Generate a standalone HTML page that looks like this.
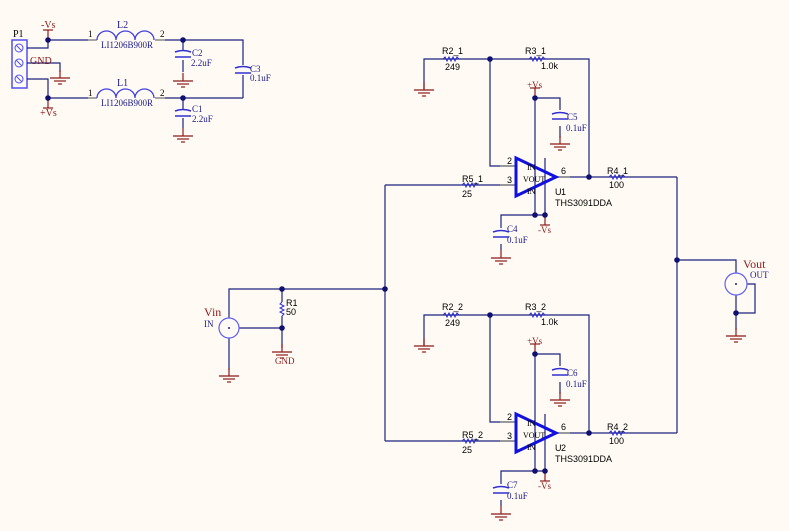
<!DOCTYPE html>
<html><head><meta charset="utf-8"><style>
html,body{margin:0;padding:0;background:#fffbf4;}
svg{display:block;}
text{font-family:"Liberation Sans",sans-serif;}
.s{font-family:"Liberation Serif",serif;}
</style></head><body>
<svg width="789" height="531" viewBox="0 0 789 531" xmlns="http://www.w3.org/2000/svg">
<defs>
<g id="gnd" stroke="#8b1a1a" stroke-width="1.2" fill="none">
<line x1="0" y1="0" x2="0" y2="8"/>
<line x1="-10" y1="8" x2="10" y2="8"/>
<line x1="-6" y1="11" x2="6" y2="11"/>
<line x1="-2" y1="14" x2="2" y2="14"/>
</g>
<path id="res" d="M-8 0 L-6 -2 L-4 2 L-2 -2 L0 2 L2 -2 L4 2 L6 -2 L8 0" stroke="#3030d0" stroke-width="1" fill="none"/>
<g id="cap" stroke="#3030d0" stroke-width="1.5" fill="none">
<path d="M-8 -2 Q0 -5 8 -2"/><line x1="-8" y1="3" x2="8" y2="3"/>
</g>
<g id="ind" stroke="#4040e0" stroke-width="1.3" fill="none">
<path d="M0 0 A9.5 9 0 0 1 19 0 A9.5 9 0 0 1 38 0 A9.5 9 0 0 1 57 0"/>
</g>
<g id="opamp">
<g stroke="#1a237e" stroke-width="1.2" fill="none">
<polyline points="424,90 424,59 490,59 589,59 589,177"/>
<polyline points="490,59 490,166 516,166"/>
<line x1="385" y1="185" x2="516" y2="185"/>
<line x1="556" y1="177" x2="677" y2="177"/>
<polyline points="535,98 535,215"/>
<polyline points="535,98 560,98 560,110"/>
<line x1="560" y1="126" x2="560" y2="138"/>
<polyline points="501,228 501,215 545,215 545,158"/>
<line x1="501" y1="244" x2="501" y2="250"/>
</g>
<g stroke="#888" stroke-width="1.5">
<line x1="500" y1="166" x2="516" y2="166"/><line x1="500" y1="185" x2="516" y2="185"/>
<line x1="556" y1="177" x2="570" y2="177"/>
</g>
<line x1="535" y1="88" x2="535" y2="98" stroke="#8b1a1a" stroke-width="1.2"/>
<line x1="530" y1="88" x2="540" y2="88" stroke="#8b1a1a" stroke-width="1.2"/>
<line x1="545" y1="215" x2="545" y2="225" stroke="#8b1a1a" stroke-width="1.2"/>
<line x1="540" y1="225" x2="550" y2="225" stroke="#8b1a1a" stroke-width="1.2"/>
<use href="#res" x="451" y="59"/><use href="#res" x="537" y="59"/>
<use href="#res" x="470" y="185"/><use href="#res" x="617" y="177"/>
<use href="#cap" x="560" y="116"/><use href="#cap" x="501" y="234"/>
<use href="#gnd" x="424" y="82"/><use href="#gnd" x="560" y="136"/><use href="#gnd" x="501" y="250"/>
<polygon points="516,158 516,196 556,177" fill="none" stroke="#1010e0" stroke-width="3"/>
<g fill="#10106e"><circle cx="490" cy="59" r="2.8"/><circle cx="535" cy="98" r="2.8"/><circle cx="589" cy="177" r="2.8"/><circle cx="535" cy="215" r="2.8"/><circle cx="545" cy="215" r="2.8"/></g>
<g font-size="9" fill="#000">
<text x="507" y="164">2</text><text x="507" y="183">3</text><text x="561" y="174">6</text>
<text x="527" y="170" font-size="8" class="s">IN</text><text x="523" y="182" font-size="8" class="s">VOUT</text><text x="527" y="194" font-size="8" class="s">IN</text>
<text x="442" y="54">R2_</text><text x="445" y="70">249</text>
<text x="525" y="54">R3_</text><text x="541" y="69">1.0k</text>
<text x="462" y="182">R5_</text><text x="462" y="197">25</text>
<text x="607" y="174">R4_</text><text x="609" y="188">100</text>
<text x="555" y="195">U</text><text x="555" y="206">THS3091DDA</text>
</g>
<g font-size="9" fill="#1a1a8c" class="s"><text x="566" y="131" class="s">0.1uF</text>
<text x="507" y="243" class="s">0.1uF</text></g>
</g>
</defs>

<!-- power section -->
<rect x="12" y="40" width="15" height="48" fill="none" stroke="#5050f0" stroke-width="1.5"/>
<g stroke="#5050f0" stroke-width="1" fill="none">
<circle cx="19" cy="48" r="4"/><circle cx="19" cy="63" r="4"/><circle cx="19" cy="79" r="4"/>
<line x1="16" y1="45" x2="22" y2="51"/><line x1="16" y1="60" x2="22" y2="66"/><line x1="16" y1="76" x2="22" y2="82"/>
</g>
<g stroke="#1a237e" stroke-width="1.2" fill="none">
<polyline points="27,48 48,48 48,40 88,40"/>
<polyline points="165,40 243,40 243,65"/>
<line x1="243" y1="75" x2="243" y2="98"/>
<polyline points="27,79 48,79 48,98 88,98"/>
<line x1="165" y1="98" x2="243" y2="98"/>
<polyline points="27,63 60,63 60,72"/>
<line x1="183" y1="40" x2="183" y2="50"/><line x1="183" y1="60" x2="183" y2="72"/>
<line x1="183" y1="98" x2="183" y2="110"/><line x1="183" y1="118" x2="183" y2="128"/>
</g>
<g stroke="#888" stroke-width="1.5"><line x1="88" y1="40" x2="97" y2="40"/><line x1="155" y1="40" x2="165" y2="40"/><line x1="88" y1="98" x2="97" y2="98"/><line x1="155" y1="98" x2="165" y2="98"/></g>
<use href="#ind" x="97" y="40"/><use href="#ind" x="97" y="98"/>
<use href="#cap" x="183" y="54"/><use href="#cap" x="183" y="113"/>
<g transform="translate(243,70)"><use href="#cap"/></g>
<use href="#gnd" x="60" y="70"/><use href="#gnd" x="183" y="73"/><use href="#gnd" x="183" y="128"/>
<line x1="48" y1="30" x2="48" y2="40" stroke="#8b1a1a" stroke-width="1.2"/><line x1="43" y1="30" x2="53" y2="30" stroke="#8b1a1a" stroke-width="1.2"/>
<line x1="48" y1="98" x2="48" y2="108" stroke="#8b1a1a" stroke-width="1.2"/><line x1="43" y1="108" x2="53" y2="108" stroke="#8b1a1a" stroke-width="1.2"/>
<g fill="#10106e"><circle cx="48" cy="40" r="2.8"/><circle cx="48" cy="98" r="2.8"/><circle cx="183" cy="40" r="2.8"/><circle cx="183" cy="98" r="2.8"/></g>
<g font-size="10" class="s">
<text x="13" y="37" fill="#000" class="s">P1</text>
<text x="41" y="28" fill="#8b1a1a" class="s">-Vs</text>
<text x="30" y="64" fill="#8b1a1a" class="s">GND</text>
<text x="40" y="116" fill="#8b1a1a" class="s">+Vs</text>
<text x="117" y="28" fill="#1a1a8c" class="s">L2</text><text x="117" y="86" fill="#1a1a8c" class="s">L1</text>
<text x="101" y="48" fill="#1a1a8c" class="s" font-size="9">LI1206B900R</text><text x="101" y="106" fill="#1a1a8c" class="s" font-size="9">LI1206B900R</text>
<text x="88" y="37" fill="#000" class="s" font-size="9">1</text><text x="160" y="37" fill="#000" class="s" font-size="9">2</text>
<text x="88" y="96" fill="#000" class="s" font-size="9">1</text><text x="160" y="96" fill="#000" class="s" font-size="9">2</text>
<g fill="#1a1a8c" font-size="9"><text x="192" y="56" class="s">C2</text><text x="191" y="66" class="s">2.2uF</text>
<text x="192" y="112" class="s">C1</text><text x="192" y="122" class="s">2.2uF</text>
<text x="250" y="72" class="s">C3</text><text x="250" y="81" class="s">0.1uF</text></g>
</g>

<!-- op amps -->
<use href="#opamp"/>
<use href="#opamp" y="256"/>
<g font-size="9"><text x="458" y="54">1</text><text x="541" y="54">1</text><text x="478" y="182">1</text><text x="623" y="174">1</text><text x="561" y="195">1</text>
<text x="458" y="310">2</text><text x="541" y="310">2</text><text x="478" y="438">2</text><text x="623" y="430">2</text><text x="561" y="451">2</text></g>
<g font-size="9" fill="#1a1a8c" class="s"><text x="567" y="120" class="s">C5</text><text x="507" y="232" class="s">C4</text><text x="567" y="376" class="s">C6</text><text x="507" y="488" class="s">C7</text></g>
<g font-size="9" fill="#8b1a1a" class="s"><text x="527" y="88" class="s">+Vs</text><text x="538" y="233" class="s">-Vs</text><text x="527" y="344" class="s">+Vs</text><text x="538" y="489" class="s">-Vs</text></g>

<!-- input & output -->
<g stroke="#1a237e" stroke-width="1.2" fill="none">
<line x1="385" y1="185" x2="385" y2="441"/>
<polyline points="229,318 229,289 385,289"/>
<line x1="282" y1="289" x2="282" y2="302"/><line x1="282" y1="316" x2="282" y2="348"/>
<line x1="239" y1="328" x2="282" y2="328"/>
<line x1="229" y1="338" x2="229" y2="370"/>
<line x1="677" y1="177" x2="677" y2="433"/>
<polyline points="677,260 736,260 736,273"/>
<line x1="736" y1="295" x2="736" y2="330"/>
<polyline points="747,284 755,284 755,313 736,313"/>
</g>
<path d="M282 302 L280 304 L284 306 L280 308 L284 310 L280 312 L284 314 L282 316" stroke="#3030d0" fill="none"/>
<circle cx="229" cy="328" r="10" fill="none" stroke="#6060f0" stroke-width="1.2"/><circle cx="229" cy="328" r="1" fill="#1a237e"/>
<circle cx="736" cy="284" r="11" fill="none" stroke="#6060f0" stroke-width="1.2"/><circle cx="736" cy="284" r="1" fill="#1a237e"/>
<use href="#gnd" x="229" y="368"/><use href="#gnd" x="282" y="344"/><use href="#gnd" x="736" y="328"/>
<g fill="#10106e"><circle cx="282" cy="289" r="2.8"/><circle cx="385" cy="289" r="2.8"/><circle cx="282" cy="328" r="2.8"/><circle cx="677" cy="260" r="2.8"/><circle cx="736" cy="313" r="2.8"/></g>
<text x="286" y="306" font-size="9">R1</text><text x="286" y="315" font-size="9">50</text>
<text x="204" y="316" font-size="12" fill="#8b1a1a" class="s">Vin</text><text x="204" y="327" font-size="9" fill="#1a1a8c" class="s">IN</text>
<text x="275" y="364" font-size="9" fill="#8b1a1a" class="s">GND</text>
<text x="743" y="268" font-size="12" fill="#8b1a1a" class="s">Vout</text><text x="750" y="278" font-size="9" fill="#1a1a8c" class="s">OUT</text>
</svg>
</body></html>
